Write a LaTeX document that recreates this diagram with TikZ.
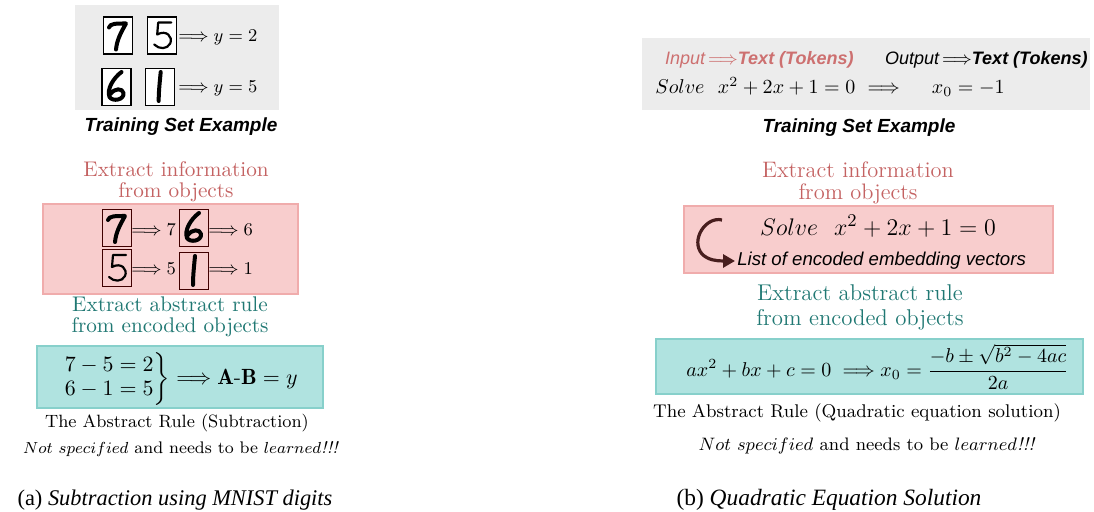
\documentclass[tikz,border=0pt]{standalone}
\usepackage{amsmath,amssymb}
\usepackage{fontspec}
\usepackage{xcolor}
\usetikzlibrary{positioning,arrows.meta}

\newfontfamily\arialfont{Liberation Sans}
\newfontfamily\timesfont{Liberation Serif}

\definecolor{boxgrey}{RGB}{236,236,236}
\definecolor{infored}{RGB}{196,98,98}
\definecolor{inputred}{RGB}{205,112,112}
\definecolor{infofill}{RGB}{248,205,205}
\definecolor{infoline}{RGB}{240,172,172}
\definecolor{ruleteal}{RGB}{32,120,115}
\definecolor{rulefill}{RGB}{176,227,224}
\definecolor{ruleline}{RGB}{135,208,203}
\definecolor{curlbrown}{RGB}{72,30,30}

\tikzset{
  greybox/.style={fill=boxgrey, inner sep=0pt},
  infobox/.style={fill=infofill, draw=infoline, line width=1pt, inner sep=0pt},
  rulebox/.style={fill=rulefill, draw=ruleline, line width=1pt, inner sep=0pt},
  mnist/.style={draw=black, line width=0.6pt, fill=white, minimum width=14.5pt, minimum height=18.5pt, inner sep=0pt},
  mnistclear/.style={mnist, fill=none, draw=black!75!red},
  pen/.style={line width=2pt, line cap=round, line join=round},
  thinpen/.style={line width=1.1pt, line cap=round, line join=round},
  titlefont/.style={font=\fontsize{10.6}{10.5}\selectfont, align=center, inner sep=1pt},
  sansbold/.style={font=\arialfont\bfseries\itshape\fontsize{9.5}{10}\selectfont},
  plain/.style={font=\fontsize{9.5}{11}\selectfont, inner sep=1pt},
  % handwritten digits, drawn in the picture's own units
  pics/seven/.style={code={
    \draw[pen] (-9,-8) .. controls (-8,-12) and (-2,-12) .. (8,-12)
      .. controls (3,-3) and (-1,4) .. (-2,14);}},
  pics/five/.style={code={
    \draw[thinpen] (9,-13) -- (-4,-13) -- (-5,-1)
      .. controls (4,-6) and (11,1) .. (8,8)
      .. controls (5,14) and (-3,14) .. (-8,9);}},
  pics/six/.style={code={
    \draw[pen] (5,-15) .. controls (-3,-9) and (-10,2) .. (-7,10)
      .. controls (-4,15) and (8,13) .. (7,6)
      .. controls (6,1) and (-2,1) .. (-6,7);}},
  pics/one/.style={code={
    \draw[pen] (1,-15) .. controls (0,-4) and (-1,4) .. (-1,14);}},
}

\begin{document}
\begin{tikzpicture}[x=0.5pt,y=-0.5pt]
\useasboundingbox (0,0) rectangle (1094,512);

%% (a) subtraction
\node[greybox, minimum width=102pt, minimum height=52.5pt] (trainA) at (177,57.5) {};
\node[mnist] (ts7) at (118,35.5) {};
\node[mnist, right=7pt of ts7] (ts5) {};
\node[plain, anchor=west] (tsy2) at (176,37) {$\Longrightarrow y=2$};
\node[mnist] (ts6) at (116.5,87) {};
\node[mnist, right=6.5pt of ts6] (ts1) {};
\node[plain, anchor=west] (tsy5) at (176,88) {$\Longrightarrow y=5$};
\pic at (ts7) {seven};
\pic at (ts5) {five};
\pic at (ts6) {six};
\pic at (ts1) {one};
\node[sansbold] (trainAlbl) at (181,127) {Training Set Example};

\node[titlefont, text=infored] (infoAlbl) at (176,182) {Extract information\\from objects};
\node[infobox, minimum width=127.5pt, minimum height=45pt] (infoA) at (170.5,249) {};
\node[mnistclear] (in7) at (117,228) {};
\node[plain, anchor=west] (in7v) at (129,230) {$\Longrightarrow 7$};
\node[mnistclear] (in6) at (194,228) {};
\node[plain, anchor=west] (in6v) at (206,230) {$\Longrightarrow 6$};
\node[mnistclear] (in5) at (117,268) {};
\node[plain, anchor=west] (in5v) at (129,269) {$\Longrightarrow 5$};
\node[mnistclear] (in1) at (194,271) {};
\node[plain, anchor=west] (in1v) at (206,269) {$\Longrightarrow 1$};
\pic at (in7) {seven};
\pic at (in6) {six};
\pic at (in5) {five};
\pic at (in1) {one};

\node[titlefont, text=ruleteal] (ruleAlbl) at (170,317) {Extract abstract rule\\from encoded objects};
\node[rulebox, minimum width=143pt, minimum height=31pt] (ruleA) at (180,377) {};
\node[font=\fontsize{11}{12}\selectfont, inner sep=0pt] (ruleAeq) at (180,379)
  {$\left.\begin{array}{@{}r@{}}7-5=2\\6-1=5\end{array}\right\}\Longrightarrow \mathbf{A\text{-}B}=y$};
\node[plain, font=\fontsize{8.9}{11}\selectfont] (absA) at (177,423) {The Abstract Rule (Subtraction)};
\node[plain, font=\fontsize{8.4}{11}\selectfont] (noteA) at (181,449) {$Not\ specified$ and needs to be $learned$\textit{!!!}};

\node[font=\timesfont\fontsize{11.2}{12}\selectfont] (capA) at (175,500) {(a) \textit{Subtraction using MNIST digits}};

%% (b) quadratic equation
\node[greybox, minimum width=224pt, minimum height=36pt] (trainB) at (866,74) {};
\node[anchor=west, text=inputred, font=\arialfont\itshape\fontsize{9}{10}\selectfont] (inB) at (658,60)
  {Input\,$\Longrightarrow$\textbf{Text (Tokens)}};
\node[anchor=west, font=\arialfont\itshape\fontsize{9}{10}\selectfont] (outB) at (878,60)
  {Output\,$\Longrightarrow$\textbf{Text (Tokens)}};
\node[plain, font=\fontsize{10}{11}\selectfont, anchor=west] (solveB) at (653,87) {$Solve\ \ x^2+2x+1=0\ \Longrightarrow\ \quad x_0=-1$};
\node[sansbold] (trainBlbl) at (859,128) {Training Set Example};

\node[titlefont, text=infored, font=\fontsize{11.2}{11}\selectfont] (infoBlbl) at (858,183) {Extract information\\from objects};
\node[infobox, minimum width=184.5pt, minimum height=33.5pt] (infoB) at (868.5,239.5) {};
\node[font=\fontsize{12.4}{14}\selectfont, inner sep=1pt] (encB) at (878,226) {$Solve\ \ x^2+2x+1=0$};
\node[anchor=west, font=\arialfont\itshape\fontsize{9.3}{11}\selectfont, inner sep=1pt] (vecB) at (735,261)
  {List of encoded embedding vectors};
\coordinate (curlB) at (722,220);
\draw[curlbrown, line width=1.6pt, -{Triangle[length=6pt,width=6.5pt]}]
  (curlB) .. controls (706,216) and (690,240) .. (702,254)
  .. controls (708,260) and (716,261) .. (vecB.west);

\node[titlefont, text=ruleteal, font=\fontsize{11.4}{12.5}\selectfont] (ruleBlbl) at (860,307) {Extract abstract rule\\from encoded objects};
\node[rulebox, minimum width=213.5pt, minimum height=27.5pt] (ruleB) at (869.5,366.5) {};
\node[font=\fontsize{10}{12}\selectfont, inner sep=0pt] (ruleBeq) at (877.5,367)
  {$ax^2+bx+c=0\;\Longrightarrow x_0=\dfrac{-b\pm\sqrt{b^2-4ac}}{2a}$};
\node[plain, font=\fontsize{9.2}{11}\selectfont] (absB) at (857,413) {The Abstract Rule (Quadratic equation solution)};
\node[plain, font=\fontsize{9.05}{11}\selectfont] (noteB) at (867,446) {$Not\ specified$ and needs to be $learned$\textit{!!!}};

\node[font=\timesfont\fontsize{11.7}{12}\selectfont] (capB) at (829,500) {(b) \textit{Quadratic Equation Solution}};
\end{tikzpicture}
\end{document}
